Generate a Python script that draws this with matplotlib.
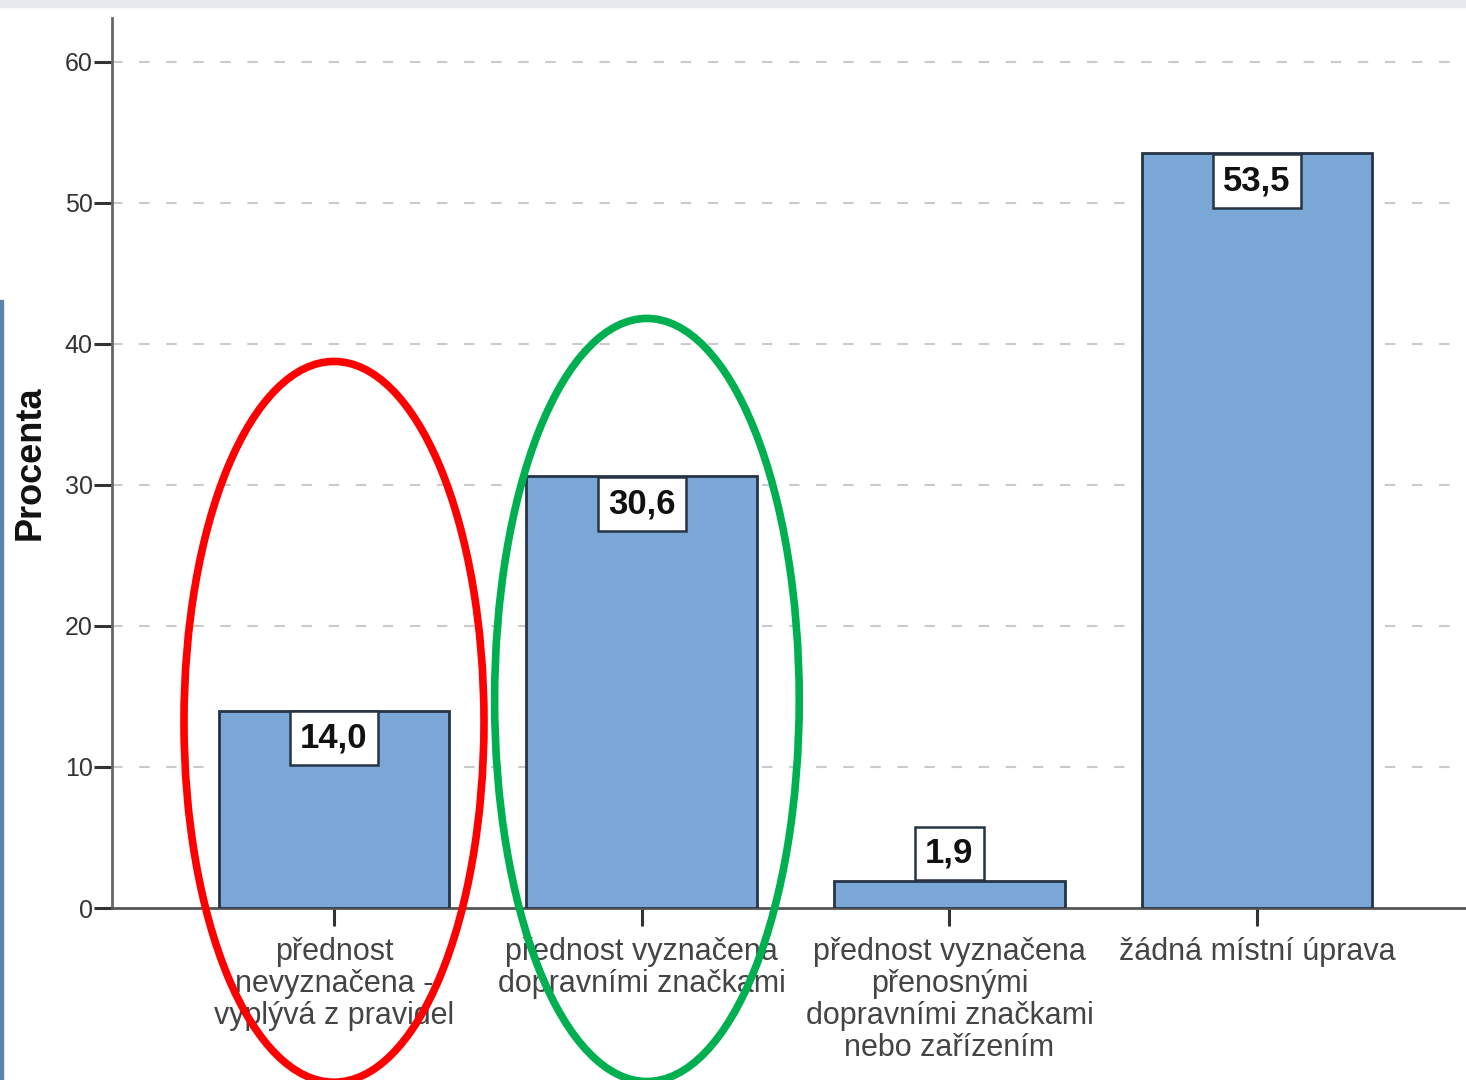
import matplotlib
matplotlib.use("Agg")
import matplotlib.pyplot as plt
from matplotlib.patches import Ellipse, Rectangle

# categories and percentages
categories = [
    "přednost\nnevyznačena -\nvyplývá z pravidel",
    "přednost vyznačena\ndopravními značkami",
    "přednost vyznačena\npřenosnými\ndopravními značkami\nnebo zařízením",
    "žádná místní úprava",
]
values = [14.0, 30.6, 1.9, 53.5]
value_labels = ["14,0", "30,6", "1,9", "53,5"]
yticks = [0, 10, 20, 30, 40, 50, 60]

plt.rcParams['font.family'] = ['Liberation Sans', 'DejaVu Sans']

fig = plt.figure(figsize=(14.66, 10.8), dpi=100)
ax = fig.add_axes([112 / 1466, 1 - 908 / 1080, 1 - 112 / 1466, (908 - 18) / 1080])

x = list(range(len(values)))
ax.bar(x, values, width=0.75, color='#7ba7d6', edgecolor='#263445', linewidth=2, zorder=3)

ax.set_xlim(-0.7215, 3.679)
ax.set_ylim(0, 63.1)
ax.set_yticks(yticks)
ax.set_yticklabels([str(t) for t in yticks], fontsize=18, color='#333333')
ax.set_xticks(x)
ax.set_xticklabels(categories, fontsize=22, color='#444444', linespacing=1.08)
ax.tick_params(axis='y', length=13, width=2.2, color='#333333', pad=1)
ax.tick_params(axis='x', length=13, width=2.2, color='#333333', pad=8)

ax.yaxis.grid(True, linestyle=(0, (5, 8)), color='#cacaca', linewidth=1.5, zorder=0)
ax.get_ygridlines()[0].set_visible(False)

for s in ['top', 'right']:
    ax.spines[s].set_visible(False)
ax.spines['left'].set_color('#666666')
ax.spines['left'].set_linewidth(2)
ax.spines['bottom'].set_color('#555555')
ax.spines['bottom'].set_linewidth(2)

ax.set_ylabel("Procenta", fontsize=26, fontweight='bold', color='#111111', labelpad=12)

# value labels in white boxes
for xi, v, lab in zip(x, values, value_labels):
    off = 20 if v < 5 else -20
    ax.annotate(lab, (xi, v), xytext=(0, off), textcoords='offset points',
                ha='center', va='center', fontsize=25, fontweight='bold', color='#111111',
                bbox=dict(boxstyle='square,pad=0.3', fc='white', ec='#263445', lw=1.8),
                zorder=5)

# highlight ellipses
ax.add_patch(Ellipse((0.0, 13.2), 0.975, 51.1, fill=False, ec='#ff0000', lw=5.5,
                     clip_on=False, zorder=10))
ax.add_patch(Ellipse((1.017, 14.75), 0.99, 54.1, fill=False, ec='#00b050', lw=5.5,
                     clip_on=False, zorder=10))

# slide frame remnants
fig.patches.append(Rectangle((0, 1 - 7 / 1080), 1, 7 / 1080, transform=fig.transFigure,
                             color='#e6eaef', zorder=0))
fig.patches.append(Rectangle((0, 0), 3 / 1466, 780 / 1080, transform=fig.transFigure,
                             color='#5a84ad', zorder=0))

fig.savefig("out.png", dpi=100)
